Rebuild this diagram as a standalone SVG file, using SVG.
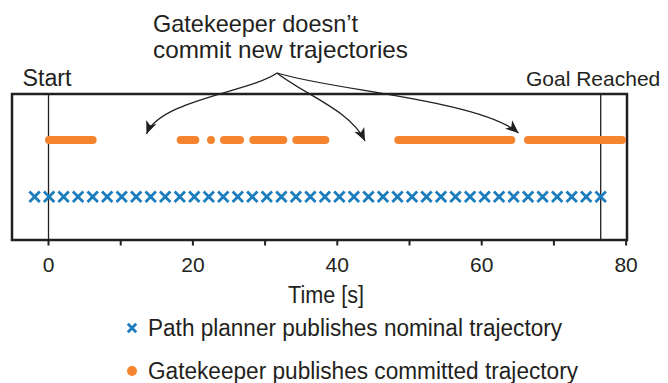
<svg xmlns="http://www.w3.org/2000/svg" xmlns:xlink="http://www.w3.org/1999/xlink" width="668" height="383" viewBox="0 0 668 383">
  <style>
    text { font-family: "Liberation Sans", Arial, sans-serif; fill: #231f20; }
    .lbl { font-size: 23px; }
    .big { font-size: 24px; }
    .tick { font-size: 21px; text-anchor: middle; }
    .frame { fill: none; stroke: #231f20; stroke-width: 2.5; }
    .tk { stroke: #231f20; stroke-width: 2; }
    .vline { stroke: #231f20; stroke-width: 1.3; }
    .seg { stroke: #f5842f; stroke-width: 8; stroke-linecap: round; }
    .cross { fill: none; stroke: #1b7dbd; stroke-width: 2.8; }
    .conn { fill: none; stroke: #231f20; stroke-width: 1.3; }
  </style>
  <defs>
    <path id="xmark" class="cross" d="M-5.2,-5.2L5.2,5.2M-5.2,5.2L5.2,-5.2"/>
    <path id="xsmall" class="cross" d="M-4.2,-4.2L4.2,4.2M-4.2,4.2L4.2,-4.2"/>
    <marker id="head" markerUnits="userSpaceOnUse" markerWidth="16" markerHeight="14" viewBox="-14 -7 16 14" refX="0" refY="0" orient="auto">
      <path d="M0,0 L-13,-5.5 L-9.5,0 L-13,5.5 Z" fill="#231f20"/>
    </marker>
  </defs>

  <!-- plot frame, ticks and event markers -->
  <g id="axes">
    <rect class="frame" x="12" y="94" width="615" height="146"/>
    <line class="vline" x1="48.5" y1="94" x2="48.5" y2="240"/>
    <line class="vline" x1="600.7" y1="94" x2="600.7" y2="240"/>
    <g class="tk">
      <line x1="48.5" y1="240" x2="48.5" y2="245.5"/>
      <line x1="120.7" y1="240" x2="120.7" y2="245.5"/>
      <line x1="192.9" y1="240" x2="192.9" y2="245.5"/>
      <line x1="265.1" y1="240" x2="265.1" y2="245.5"/>
      <line x1="337.3" y1="240" x2="337.3" y2="245.5"/>
      <line x1="409.5" y1="240" x2="409.5" y2="245.5"/>
      <line x1="481.7" y1="240" x2="481.7" y2="245.5"/>
      <line x1="553.9" y1="240" x2="553.9" y2="245.5"/>
      <line x1="626.1" y1="240" x2="626.1" y2="245.5"/>
    </g>
    <text class="tick" x="48.5" y="272">0</text>
    <text class="tick" x="192.9" y="272">20</text>
    <text class="tick" x="337.3" y="272">40</text>
    <text class="tick" x="481.7" y="272">60</text>
    <text class="tick" x="626.1" y="272">80</text>
    <text class="lbl" x="288" y="303" textLength="76" lengthAdjust="spacingAndGlyphs">Time [s]</text>
    <text id="start" class="lbl" x="22.5" y="86" textLength="49" lengthAdjust="spacingAndGlyphs">Start</text>
    <text id="goal" x="526" y="86" font-size="21">Goal Reached</text>
  </g>

  <!-- committed trajectory intervals -->
  <g id="committed">
    <line class="seg" x1="49" y1="140" x2="92.7" y2="140"/>
    <line class="seg" x1="180.7" y1="140" x2="195.3" y2="140"/>
    <line class="seg" x1="211" y1="140" x2="211.01" y2="140"/>
    <line class="seg" x1="224" y1="140" x2="240" y2="140"/>
    <line class="seg" x1="253.3" y1="140" x2="283.3" y2="140"/>
    <line class="seg" x1="296.3" y1="140" x2="325.3" y2="140"/>
    <line class="seg" x1="398.3" y1="140" x2="511.3" y2="140"/>
    <line class="seg" x1="528" y1="140" x2="622" y2="140"/>
  </g>

  <!-- nominal trajectory publications, every 2 s -->
  <g id="nominal">
    <use xlink:href="#xmark" x="34.6" y="196.7"/>
    <use xlink:href="#xmark" x="49.1" y="196.7"/>
    <use xlink:href="#xmark" x="63.6" y="196.7"/>
    <use xlink:href="#xmark" x="78.1" y="196.7"/>
    <use xlink:href="#xmark" x="92.7" y="196.7"/>
    <use xlink:href="#xmark" x="107.2" y="196.7"/>
    <use xlink:href="#xmark" x="121.7" y="196.7"/>
    <use xlink:href="#xmark" x="136.2" y="196.7"/>
    <use xlink:href="#xmark" x="150.7" y="196.7"/>
    <use xlink:href="#xmark" x="165.2" y="196.7"/>
    <use xlink:href="#xmark" x="179.8" y="196.7"/>
    <use xlink:href="#xmark" x="194.3" y="196.7"/>
    <use xlink:href="#xmark" x="208.8" y="196.7"/>
    <use xlink:href="#xmark" x="223.3" y="196.7"/>
    <use xlink:href="#xmark" x="237.8" y="196.7"/>
    <use xlink:href="#xmark" x="252.3" y="196.7"/>
    <use xlink:href="#xmark" x="266.8" y="196.7"/>
    <use xlink:href="#xmark" x="281.4" y="196.7"/>
    <use xlink:href="#xmark" x="295.9" y="196.7"/>
    <use xlink:href="#xmark" x="310.4" y="196.7"/>
    <use xlink:href="#xmark" x="324.9" y="196.7"/>
    <use xlink:href="#xmark" x="339.4" y="196.7"/>
    <use xlink:href="#xmark" x="353.9" y="196.7"/>
    <use xlink:href="#xmark" x="368.5" y="196.7"/>
    <use xlink:href="#xmark" x="383.0" y="196.7"/>
    <use xlink:href="#xmark" x="397.5" y="196.7"/>
    <use xlink:href="#xmark" x="412.0" y="196.7"/>
    <use xlink:href="#xmark" x="426.5" y="196.7"/>
    <use xlink:href="#xmark" x="441.0" y="196.7"/>
    <use xlink:href="#xmark" x="455.5" y="196.7"/>
    <use xlink:href="#xmark" x="470.1" y="196.7"/>
    <use xlink:href="#xmark" x="484.6" y="196.7"/>
    <use xlink:href="#xmark" x="499.1" y="196.7"/>
    <use xlink:href="#xmark" x="513.6" y="196.7"/>
    <use xlink:href="#xmark" x="528.1" y="196.7"/>
    <use xlink:href="#xmark" x="542.6" y="196.7"/>
    <use xlink:href="#xmark" x="557.2" y="196.7"/>
    <use xlink:href="#xmark" x="571.7" y="196.7"/>
    <use xlink:href="#xmark" x="586.2" y="196.7"/>
    <use xlink:href="#xmark" x="600.7" y="196.7"/>
  </g>

  <!-- annotation callout -->
  <g id="note">
    <text class="big" x="153" y="31.5" textLength="205" lengthAdjust="spacingAndGlyphs">Gatekeeper doesn’t</text>
    <text class="big" x="153" y="58" textLength="255" lengthAdjust="spacingAndGlyphs">commit new trajectories</text>
  </g>

  <g id="connectors">
    <path class="conn" marker-end="url(#head)" d="M277,73 C250,92 160,100 146.5,134"/>
    <path class="conn" marker-end="url(#head)" d="M277,73 C305,95 350,110 365,141"/>
    <path class="conn" marker-end="url(#head)" d="M277,73 C330,90 480,100 518.5,133"/>
  </g>

  <!-- legend -->
  <g id="legend">
    <use xlink:href="#xsmall" x="132" y="328"/>
    <text class="lbl" x="148" y="336" textLength="414" lengthAdjust="spacingAndGlyphs">Path planner publishes nominal trajectory</text>
    <circle cx="132" cy="371" r="5" fill="#f5842f"/>
    <text class="lbl" x="148" y="379" textLength="430" lengthAdjust="spacingAndGlyphs">Gatekeeper publishes committed trajectory</text>
  </g>
</svg>
